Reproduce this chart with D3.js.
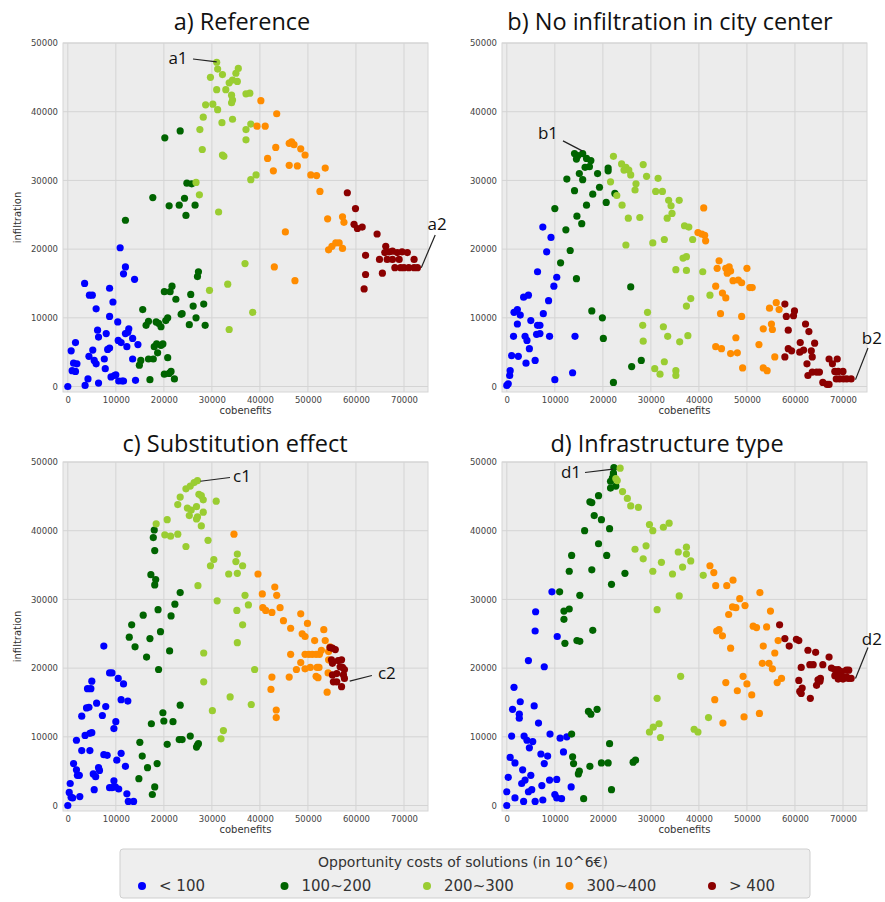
<!DOCTYPE html>
<html>
<head>
<meta charset="utf-8">
<script src="https://cdn.jsdelivr.net/npm/d3@7"></script>
<style>body{margin:0;background:#fff}</style>
</head>
<body>
<svg id="fig" width="885" height="902"></svg>
<script>
// cost classes, colours and ticks
const classes = ['< 100', '100~200', '200~300', '300~400', '> 400'];
const classColors = ['#0000ff', '#006400', '#9acd32', '#ff8c00', '#8b0000'];
const xTicks = [0, 10000, 20000, 30000, 40000, 50000, 60000, 70000];
const yTicks = [0, 10000, 20000, 30000, 40000, 50000];
const panelTitles = ['a) Reference', 'b) No infiltration in city center', 'c) Substitution effect', 'd) Infrastructure type'];

// a) Reference  -- one list of [cobenefits, infiltration] per class
const ptsRef = [
  [[0,0],[700,5200],[1600,6400],[900,2300],[1600,2200],[1200,3400],[1900,3300],[3500,15000],[3600,150],[4200,1100],
   [4400,4400],[4500,13300],[5100,13300],[5200,5300],[5500,3800],[5900,3300],[5900,11300],[6200,8200],[6400,7200],[6400,500],
   [7600,4000],[7800,2600],[8000,7700],[8700,14300],[8700,10200],[8300,5400],[8700,5600],[9000,1400],[9400,12300],[9700,1600],
   [10000,1700],[10400,9400],[10500,6700],[11100,6400],[10600,800],[11300,800],[10900,20200],[11600,16400],[12000,17400],[12000,7700],
   [12300,5800],[12700,8400],[12500,7900],[13500,4000],[13500,7000],[13900,15600],[14100,900],[14600,6100],[11600,800]],
  [[12000,24200],[15600,11200],[15200,3800],[14900,3100],[16300,8900],[16800,9500],[16800,4000],[17100,1000],[17700,27500],[18000,5800],
   [17800,4000],[18500,6200],[18700,4900],[18400,9400],[18900,9200],[19400,8700],[19400,6000],[19800,6200],[20100,13800],[20200,36200],
   [20400,9600],[20800,10000],[20100,1800],[20800,4200],[21100,1900],[21300,13800],[21100,26300],[21700,14600],[21500,2200],[22200,1100],
   [22500,12700],[23200,26400],[23400,37200],[23800,10600],[23600,10500],[24300,27400],[24600,24900],[24800,29600],[25300,9000],[25600,13400],
   [25800,29500],[26100,11700],[26500,26400],[26700,10000],[27000,16000],[27200,16700],[28300,12000],[28600,8900]],
  [[26700,29700],[27400,27900],[27500,37400],[28000,34500],[28200,39200],[28700,41000],[29500,14000],[29700,45000],[30200,41100],[31000,47200],
   [31000,43200],[31200,46200],[31200,40300],[31400,25400],[32100,38400],[32200,33700],[32500,33500],[32200,45400],[32900,43200],[33300,14900],
   [33600,8300],[33600,44200],[34100,41300],[34300,41700],[34300,38900],[34100,42400],[34300,44600],[35300,44400],[35000,45600],[35500,46300],
   [37100,37400],[37100,42600],[37900,42700],[36900,17900],[37100,35900],[38100,30100],[39200,30800],[38100,38200],[38500,10800]],
  [[40200,41600],[39400,37900],[41100,37900],[41600,33200],[42800,31400],[43300,34800],[43500,39700],[43000,17400],[45300,22500],[46100,35400],
   [46600,35600],[47100,35200],[46100,32200],[47300,15400],[47800,32100],[48500,34600],[49400,33700],[50600,30800],[51800,30700],[52500,28400],
   [53600,31800],[54100,24400],[54300,19900],[55000,20400],[55800,20900],[56500,20900],[57200,20100],[57200,24700],[57500,23900]],
  [[58200,28200],[59900,25900],[59600,23600],[60300,23000],[61300,23200],[62000,19100],[62000,16300],[61700,14200],[64400,22200],[64900,18500],
   [65500,16500],[66200,20400],[66000,19500],[66900,19600],[67600,19700],[68600,19500],[69600,19600],[70700,19500],[66500,18500],[67600,18500],
   [69000,18500],[72100,18500],[68100,17300],[69300,17300],[70000,17300],[71000,17300],[72100,17300],[72800,17300]]
];

// b) No infiltration in city center
const ptsNoCenter = [
  [[0,150],[300,400],[600,1600],[700,2300],[1000,4500],[1400,7300],[1500,10800],[2200,11200],[2200,9100],[2400,4400],
   [2800,10400],[3800,7300],[4000,3400],[3500,13000],[4500,13300],[4200,6700],[4700,5500],[5000,9600],[5900,3800],[6400,16700],
   [6400,8900],[6900,8900],[6200,7600],[6900,7700],[7500,23200],[7600,10600],[8300,19600],[8700,12500],[8900,7300],[9200,21700],
   [9800,14600],[10400,15900],[10000,1000],[13700,2000],[14200,7300]],
  [[10000,25900],[11200,18000],[12300,22800],[12500,30200],[13200,19800],[14100,28500],[14100,33900],[14800,33600],[15800,33900],[14500,33100],
   [14600,24800],[14500,15700],[15100,31000],[15600,23700],[15800,30100],[16300,31900],[17200,32000],[16600,33200],[17500,32900],[16600,26400],
   [17700,11000],[17900,28000],[18900,31000],[19300,29000],[19900,10000],[20100,7000],[20700,26800],[21100,31800],[21100,31400],[22200,600],
   [22500,28100],[25800,14500],[26000,2900],[28000,3800]],
  [[21600,29800],[22200,33500],[22900,27800],[23900,32400],[24400,31500],[24800,31900],[25400,31500],[24000,26400],[24800,20600],[25300,24500],
   [25800,30800],[26700,28600],[26900,29500],[27700,24600],[28300,8900],[28400,6600],[28400,32300],[29100,30600],[29300,10800],[30400,20900],
   [30800,2600],[31500,30300],[31000,28400],[32400,28400],[31900,1800],[32600,8700],[32800,21400],[32800,3600],[33400,24500],[33500,7300],
   [33700,27100],[34200,26300],[34400,25200],[35200,17000],[35200,2300],[35200,1600],[35900,27100],[36000,6500],[36700,18700],[37400,18900],
   [37000,23400],[37900,23200],[37400,11700],[37400,16900],[37700,7400],[38300,12800],[38700,21400],[40800,16700],[42300,13300]],
  [[39800,22400],[40600,22200],[41200,22000],[41000,26000],[41400,21200],[43500,14600],[43500,5800],[44700,5500],[43800,17200],[44200,18300],
   [44500,10600],[44900,13600],[45600,12900],[45600,17200],[46300,17400],[46600,16800],[45900,16500],[47100,15400],[48200,15500],[48900,15100],
   [46600,4800],[48000,4900],[47700,7100],[48900,10200],[49100,2700],[50000,17200],[50600,14400],[51100,14400],[52500,6100],[53400,8400],
   [53400,2700],[54200,2300],[54700,11400],[55100,9100],[55300,8300],[55800,4300],[56100,12200],[56700,11200]],
  [[57900,12000],[58200,10200],[59700,10300],[59900,11000],[57900,4300],[58600,8200],[58600,5500],[59300,5200],[61000,5000],[61800,5300],
   [61100,6400],[62200,9100],[62900,8000],[62500,3300],[63400,5200],[63600,4300],[64100,6300],[62700,1600],[63600,2100],[64500,2100],
   [65100,2100],[65800,600],[66700,300],[67100,300],[67100,4000],[67800,3300],[68300,2200],[69000,2200],[70000,2200],[68800,4000],
   [68600,1100],[69300,1100],[70100,1100],[70800,1100],[71700,1100]]
];

// c) Substitution effect
const ptsSubst = [
  [[0,0],[300,1900],[500,3200],[700,1200],[1000,1100],[1200,6100],[1800,5200],[2000,4400],[2400,4400],[1800,9500],
   [2500,1300],[2900,8000],[2900,13000],[3600,10200],[3900,14200],[4400,14300],[4100,17000],[4800,17000],[4600,10500],[5000,10600],
   [4600,8000],[5000,18100],[5300,4600],[5800,4200],[5500,2300],[6000,14900],[6400,5500],[6600,5100],[7200,13100],[7500,23200],
   [7500,7400],[8200,7300],[7900,14400],[8700,19300],[9200,19300],[8700,2600],[9200,2600],[9600,3600],[9600,11200],[9900,2700],
   [10600,2400],[10000,12200],[10200,6600],[10500,18500],[11100,7600],[11100,15400],[11600,17700],[12000,5700],[12300,1700],[12600,600],
   [12500,15200],[13700,600]],
  [[18000,40100],[17800,39000],[18100,37100],[17300,33600],[18300,32900],[18100,32100],[23400,31000],[22300,29300],[18800,28500],[19300,25300],
   [15700,27700],[13300,26300],[12800,24500],[14000,23100],[17100,24300],[16400,21600],[21500,27600],[21200,22500],[18900,19800],[23400,14600],
   [19800,13500],[20000,12300],[21900,12200],[17400,11900],[15000,9200],[23200,9600],[23800,9600],[20700,8900],[25500,10100],[27000,8800],
   [27200,9000],[26800,8500],[15500,7200],[16600,5500],[18600,6100],[14800,3900],[18100,2700],[17600,1600]],
  [[18400,41000],[20700,41600],[20200,39400],[21400,39200],[22900,39500],[22900,43800],[23400,44900],[24600,46100],[25500,46500],[26300,47000],
   [27000,47300],[24900,43300],[25700,43000],[25300,42200],[24600,37700],[26800,43500],[27000,42000],[26800,41700],[27300,45300],[27800,45100],
   [28200,44500],[28200,42700],[27800,40700],[27100,32000],[29200,38600],[30900,44300],[30400,35800],[29700,34900],[31100,29800],[28300,22200],
   [28300,18000],[30100,13800],[31900,9700],[32400,10900],[33500,33700],[33800,15800],[35000,35500],[35300,36600],[35300,33800],[35200,28400],
   [35300,23700],[36400,34900],[36400,26300],[36900,30600],[37600,29200],[38200,14700],[38900,19800]],
  [[34600,39500],[39600,33700],[40500,30800],[40600,28800],[41200,28400],[42500,28100],[43100,31800],[43500,30600],[44200,28800],[44900,26900],
   [42500,18700],[42300,16900],[43400,13900],[43400,12800],[46400,25800],[46400,22000],[46100,18700],[47600,19800],[48500,20800],[48500,27900],
   [48800,25000],[49400,24600],[49400,22000],[50200,22000],[50900,22000],[51700,22000],[52400,22000],[49900,26500],[49400,19900],[50500,20100],
   [51400,24000],[51900,20100],[52300,20100],[51700,18800],[52100,18600],[52800,22600],[53300,25600],[53600,24000],[54200,19300],[54000,16500],
   [54300,22400],[54300,21200],[54600,23100]],
  [[54600,23000],[55100,22900],[55700,22700],[54900,21200],[55100,20700],[55100,19000],[56000,19200],[55300,18000],[56000,18000],[56300,21100],
   [57000,21200],[56700,20200],[57200,20100],[57600,19800],[57000,17300],[57400,19000],[57600,18500]]
];

// d) Infrastructure type
const ptsInfra = [
  [[0,0],[0,2000],[300,4100],[700,7000],[1000,10100],[1500,17200],[1200,14000],[1700,6200],[1700,1100],[2600,12700],
   [2600,13300],[2800,15100],[3100,3200],[3300,5200],[3600,10100],[3500,600],[3800,3700],[4200,9500],[4500,2000],[5200,2300],
   [4500,21100],[4700,8400],[5000,4400],[5400,9300],[5900,25400],[6000,28200],[5700,14500],[5900,600],[6600,12000],[7100,7500],
   [7300,2900],[7500,800],[7800,20200],[7800,6100],[8500,7200],[8900,3700],[9000,10400],[9400,31100],[10000,1600],[10400,3800],
   [10400,1100],[10500,24600],[11100,9800],[11400,1000],[11800,7800],[12500,10000],[13400,2700]],
  [[11000,31100],[11900,28300],[11900,27100],[12100,23600],[13000,28600],[13000,34100],[13500,36400],[13500,10400],[13700,7100],[13900,6100],
   [14600,24000],[15200,23900],[15200,30600],[14900,4600],[15100,5000],[16000,1000],[16200,40000],[17000,13700],[17500,13300],[17300,44200],
   [17700,44100],[17300,5700],[17700,34300],[17900,25500],[18200,42200],[18800,14000],[19100,45100],[19100,38100],[19700,41600],[19700,6200],
   [20800,36400],[21100,6200],[21400,40300],[21400,9000],[21800,2300],[21800,32200],[21600,47200],[22000,47700],[22200,48400],[22300,49200],
   [22200,48200],[21600,46200],[22700,46500],[24600,33800],[26300,6300],[26800,6600]],
  [[22700,47600],[23000,47300],[23600,49100],[24100,45700],[25100,44700],[25800,43600],[27400,43400],[26700,37300],[28400,35900],[29000,37800],
   [29700,40900],[30400,40000],[30400,34100],[31300,28500],[31300,15600],[29700,10700],[30500,11400],[31700,11900],[32000,9900],[32200,35400],
   [32600,40500],[33800,41100],[34500,33700],[35700,36900],[35900,30500],[36600,34700],[36200,18800],[37400,37600],[37400,36600],[38300,35600],
   [39000,11100],[39800,10700],[40900,33500],[42000,12800]],
  [[42300,34900],[43100,33900],[43500,32000],[43300,15400],[43700,25400],[44200,25600],[44900,24700],[45000,12000],[45600,17900],[45800,32000],
   [46200,27800],[46600,22900],[47100,32800],[47000,28900],[47700,28800],[48000,16700],[48500,30100],[49200,18800],[49400,12900],[49600,29100],
   [50000,17700],[51000,16100],[51300,26100],[52000,25900],[52600,13400],[52700,31000],[53400,23200],[53200,20700],[54100,26000],[54600,20700],
   [54900,28300],[55300,19900],[55800,22200],[56300,17900],[57200,18500],[56500,24000]],
  [[56800,26300],[57900,24300],[58800,23200],[60300,24200],[60800,24000],[60800,18200],[61000,16600],[61300,16300],[61500,17100],[61300,20100],
   [62700,22600],[63100,20500],[63800,20500],[63200,15600],[64300,22300],[64500,17500],[65200,18100],[64800,18300],[65300,18500],[65800,20500],
   [67100,21600],[67600,20000],[68300,19800],[69000,19800],[69700,19500],[70700,19700],[71200,19700],[68300,18900],[69200,18900],[70000,18700],
   [70800,18700],[71700,18500],[69000,18400],[70000,18400],[71100,18500]]
];

// annotations: label, text anchor, line start, line end (all in data units)
const annRef = [{t:'a1', txt:[22950,47820], l0:[26070,47670], l1:[31000,47250]},
                {t:'a2', txt:[76900,23650], l0:[76500,22050], l1:[73600,17300]}];
const annNoCenter = [{t:'b1', txt:[8580,36900], l0:[11700,35750], l1:[15700,34300]},
                     {t:'b2', txt:[76000,7060], l0:[75200,5600], l1:[72600,1000]}];
const annSubst = [{t:'c1', txt:[36270,47890], l0:[33770,47740], l1:[27600,47200]},
                  {t:'c2', txt:[66440,19210], l0:[63320,18920], l1:[58700,18100]}];
const annInfra = [{t:'d1', txt:[13370,48470], l0:[16280,48470], l1:[22100,48950]},
                  {t:'d2', txt:[76000,24300], l0:[75200,23000], l1:[72600,18500]}];

const svg = d3.select('#fig');
const plotW = 365, plotH = 349;

const x = d3.scaleLinear().domain([-1000, 75000]).range([0, plotW]);
const y = d3.scaleLinear().domain([-800, 50000]).range([plotH, 0]);

const layout = [
  {left: 63,  top: 43,  title: [242, 30],  pts: ptsRef,      ann: annRef,      ylab: true},
  {left: 502, top: 43,  title: [670, 30],  pts: ptsNoCenter, ann: annNoCenter, ylab: false},
  {left: 63,  top: 462, title: [235, 452], pts: ptsSubst,    ann: annSubst,    ylab: true},
  {left: 502, top: 462, title: [667, 452], pts: ptsInfra,    ann: annInfra,    ylab: false}
];

layout.forEach(function(p, i){
  svg.append('text')
     .attr('x', p.title[0]).attr('y', p.title[1])
     .attr('text-anchor', 'middle')
     .style('font-family', 'Open Sans, sans-serif')
     .style('font-size', '23.5px')
     .style('fill', '#111')
     .text(panelTitles[i]);

  let g = svg.append('g').attr('transform', 'translate(' + p.left + ',' + p.top + ')');

  g.append('rect').attr('width', plotW).attr('height', plotH)
   .style('fill', '#ececec').style('stroke', '#d6d6d6');

  // grid
  g.selectAll('.gx').data(xTicks).enter().append('line')
   .attr('x1', d => x(d)).attr('x2', d => x(d)).attr('y1', 0).attr('y2', plotH)
   .style('stroke', '#d4d4d4').style('stroke-width', 1);
  g.selectAll('.gy').data(yTicks).enter().append('line')
   .attr('y1', d => y(d)).attr('y2', d => y(d)).attr('x1', 0).attr('x2', plotW)
   .style('stroke', '#d4d4d4').style('stroke-width', 1);

  // axes
  let ax = g.append('g').attr('transform', 'translate(0,' + plotH + ')')
            .call(d3.axisBottom(x).tickValues(xTicks).tickSize(0).tickPadding(5).tickFormat(d3.format('d')));
  let ay = g.append('g')
            .call(d3.axisLeft(y).tickValues(yTicks).tickSize(0).tickPadding(5).tickFormat(d3.format('d')));
  [ax, ay].forEach(a => {
    a.select('.domain').remove();
    a.selectAll('text').style('font-family', 'DejaVu Sans, sans-serif')
     .style('font-size', '8.5px').style('fill', '#444');
  });

  g.append('text').attr('x', plotW/2).attr('y', plotH + 22)
   .attr('text-anchor', 'middle')
   .style('font-family', 'DejaVu Sans, sans-serif').style('font-size', '10px').style('fill', '#333')
   .text('cobenefits');
  if (p.ylab) {
    g.append('text').attr('transform', 'translate(-42,' + (plotH/2) + ') rotate(-90)')
     .attr('text-anchor', 'middle')
     .style('font-family', 'DejaVu Sans, sans-serif').style('font-size', '10px').style('fill', '#333')
     .text('infiltration');
  }

  // points, one class after the other
  p.pts.forEach(function(cls, ci){
    g.append('g').selectAll('circle').data(cls).enter().append('circle')
     .attr('cx', d => x(d[0])).attr('cy', d => y(d[1])).attr('r', 3.6)
     .style('fill', classColors[ci]);
  });

  // annotations
  p.ann.forEach(function(a){
    g.append('line')
     .attr('x1', x(a.l0[0])).attr('y1', y(a.l0[1]))
     .attr('x2', x(a.l1[0])).attr('y2', y(a.l1[1]))
     .style('stroke', '#222').style('stroke-width', 1.2);
    g.append('text').attr('x', x(a.txt[0])).attr('y', y(a.txt[1]))
     .attr('text-anchor', 'middle').attr('dy', '0.35em')
     .style('font-family', 'Open Sans, sans-serif').style('font-size', '17px').style('fill', '#111')
     .text(a.t);
  });
});

// legend
const leg = svg.append('g').attr('transform', 'translate(120,849)');
leg.append('rect').attr('width', 690).attr('height', 49).attr('rx', 3)
   .style('fill', '#eeeeee').style('stroke', '#cfcfcf');
leg.append('text').attr('x', 343).attr('y', 18)
   .attr('text-anchor', 'middle')
   .style('font-family', 'DejaVu Sans, sans-serif').style('font-size', '14px').style('fill', '#333')
   .text('Opportunity costs of solutions (in 10^6€)');
const legX = d3.scalePoint().domain(classes).range([22, 592]);
const item = leg.selectAll('.item').data(classes).enter().append('g')
   .attr('transform', d => 'translate(' + legX(d) + ',37)');
item.append('circle').attr('r', 4).style('fill', (d, i) => classColors[i]);
item.append('text').attr('x', 17).attr('dy', '0.35em')
   .style('font-family', 'DejaVu Sans, sans-serif').style('font-size', '15px').style('fill', '#333')
   .text(d => d);
</script>
</body>
</html>
